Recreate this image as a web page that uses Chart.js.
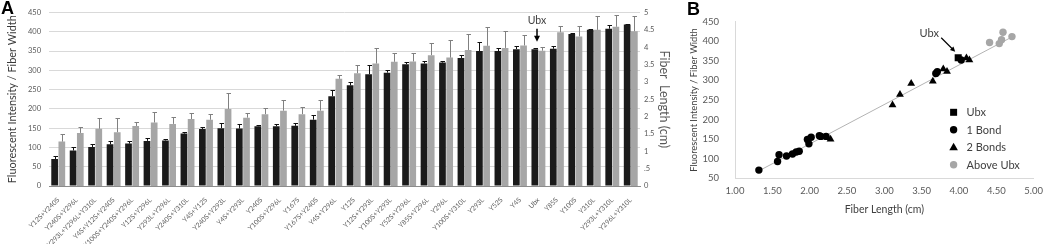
<!DOCTYPE html>
<html>
<head>
<meta charset="utf-8">
<script src="https://cdn.jsdelivr.net/npm/chart.js@4.4.1/dist/chart.umd.min.js"></script>
<style>
  html, body { margin:0; padding:0; background:#fff; }
  body { width:1050px; height:244px; overflow:hidden; position:relative; font-family: Lato, "Liberation Sans", sans-serif; }
  .panel { position:absolute; top:0; height:244px; }
  .lab { position:absolute; font: bold 18px "Liberation Sans", Arial, sans-serif; line-height:18px; color:#000; }
</style>
</head>
<body>
<div class="panel" style="left:0;width:683px"><canvas id="ca" width="683" height="244"></canvas></div>
<div class="panel" style="left:683px;width:367px"><canvas id="cb" width="367" height="244"></canvas></div>
<div class="lab" style="left:1px;top:-1px">A</div>
<div class="lab" style="left:687px;top:0px">B</div>
<script>
// ---------------- Panel A data ----------------
const categories = [
  'Y12S+Y240S','Y240S+Y296L','Y293L+Y296L+Y310L','Y4S+Y12S+Y240S','Y100S+Y240S+Y296L',
  'Y12S+Y296L','Y293L+Y296L','Y240S+Y310L','Y4S+Y12S','Y240S+Y293L','Y4S+Y293L','Y240S',
  'Y100S+Y296L','Y167S','Y167S+Y240S','Y4S+Y296L','Y12S','Y12S+Y293L','Y100S+Y293L',
  'Y52S+Y296L','Y85S+Y296L','Y296L','Y100S+Y310L','Y293L','Y52S','Y4S','Ubx','Y85S',
  'Y100S','Y310L','Y293L+Y310L','Y296L+Y310L'
];
const intensity = [70,92,101,108,110,117,118,136,148,150,149,155,155,156,172,233,261,290,294,316,318,320,332,350,350,355,355,356,394,405,408,419];
const intensitySD = [9,10,7,8,8,8,5,3,4,13,11,2,7,7,11,17,10,24,8,5,6,4,7,23,8,8,2,7,3,3,10,2];
const fiberLength = [1.28,1.53,1.65,1.55,1.73,1.83,1.79,1.93,1.91,2.22,1.97,2.07,2.17,2.07,2.17,3.09,3.25,3.53,3.58,3.59,3.77,3.70,3.92,4.04,3.98,4.05,3.90,4.43,4.31,4.50,4.59,4.46];
const fiberLengthSD = [0.22,0.18,0.30,0.40,0.11,0.29,0.20,0.17,0.16,0.46,0.13,0.18,0.31,0.22,0.31,0.11,0.25,0.46,0.24,0.24,0.35,0.50,0.45,0.54,0.49,0.30,0.11,0.19,0.31,0.40,0.35,0.44];
const leftTicksMax = 450, leftStep = 50;
const rightTicksMax = 5, rightStep = 0.5;

// ---------------- Panel B data ----------------
const ubxX = [3.99];
const ubxY = [358];
const oneBondX = [1.32,1.57,1.59,1.69,1.77,1.82,1.86,1.97,1.99,2.02,2.13,2.15,2.22,3.69,3.71,4.03];
const oneBondY = [71,93,110,107,112,117,119,149,138,155,159,157,157,318,322,352];
const twoBondsX = [2.28,3.11,3.21,3.36,3.65,3.79,3.84,4.10,4.14];
const twoBondsY = [150,237,264,292,298,329,323,357,352];
const aboveUbxX = [4.41,4.54,4.57,4.59,4.71];
const aboveUbxY = [397,394,404,423,412];
const trendX = [1.30,4.75];
const trendY = [67,415];

const FONT = 'Lato, "Liberation Sans", sans-serif';
const TICK = '#595959';
const zip = (xs, ys) => xs.map((x, i) => ({x, y: ys[i]}));

// ---------- plugins ----------
const errorBars = {
  id: 'errorBars',
  afterDatasetsDraw(chart) {
    const ctx = chart.ctx;
    chart.data.datasets.forEach((ds, di) => {
      if (!ds.sd) return;
      const meta = chart.getDatasetMeta(di);
      const scale = chart.scales[meta.yAxisID];
      ctx.save();
      ctx.strokeStyle = ds.sdColor;
      ctx.lineWidth = 1;
      meta.data.forEach((bar, i) => {
        const x = Math.round(bar.x) + 0.5;
        const yTop = Math.round(scale.getPixelForValue(ds.data[i] + ds.sd[i])) + 0.5;
        ctx.beginPath();
        ctx.moveTo(x, bar.y);
        ctx.lineTo(x, yTop);
        ctx.moveTo(x - 2, yTop);
        ctx.lineTo(x + 2.5, yTop);
        ctx.stroke();
      });
      ctx.restore();
    });
  }
};

const ubxArrowA = {
  id: 'ubxArrowA',
  afterDatasetsDraw(chart) {
    const i = categories.indexOf('Ubx');
    const x = Math.round(chart.scales.x.getPixelForValue(i)) - 1;
    const top = Math.min(
      chart.scales.y.getPixelForValue(intensity[i] + intensitySD[i]),
      chart.scales.y1.getPixelForValue(fiberLength[i] + fiberLengthSD[i]));
    const ctx = chart.ctx;
    ctx.save();
    ctx.fillStyle = '#404040';
    ctx.font = '10.5px ' + FONT;
    ctx.textAlign = 'center';
    ctx.textBaseline = 'middle';
    ctx.fillText('Ubx', x, top - 26);
    ctx.strokeStyle = '#000';
    ctx.fillStyle = '#000';
    ctx.lineWidth = 1.5;
    ctx.beginPath();
    ctx.moveTo(x, top - 18);
    ctx.lineTo(x, top - 10);
    ctx.stroke();
    ctx.beginPath();
    ctx.moveTo(x - 3, top - 11);
    ctx.lineTo(x + 3, top - 11);
    ctx.lineTo(x, top - 5);
    ctx.closePath();
    ctx.fill();
    ctx.restore();
  }
};

// ---------- Panel A ----------
new Chart(document.getElementById('ca'), {
  type: 'bar',
  data: {
    labels: categories,
    datasets: [
      { label: 'Fluorescent Intensity / Fiber Width', data: intensity, sd: intensitySD, sdColor: '#111',
        backgroundColor: '#1a1a1a', yAxisID: 'y', categoryPercentage: 0.78, barPercentage: 0.93 },
      { label: 'Fiber Length (cm)', data: fiberLength, sd: fiberLengthSD, sdColor: '#808080',
        backgroundColor: '#a6a6a6', yAxisID: 'y1', categoryPercentage: 0.78, barPercentage: 0.93 }
    ]
  },
  options: {
    responsive: false, animation: false, events: [],
    layout: { padding: { top: 8, left: 0, right: 0, bottom: 0 } },
    plugins: { legend: { display: false }, tooltip: { enabled: false } },
    scales: {
      x: {
        grid: { display: false },
        border: { display: true, color: '#8c8c8c', width: 1 },
        ticks: { autoSkip: false, minRotation: 45, maxRotation: 45, padding: 2, color: TICK, font: { family: FONT, size: 6.8 } },
        afterFit: s => { s.height = 58; }
      },
      y: {
        position: 'left', min: 0, max: leftTicksMax,
        ticks: { stepSize: leftStep, padding: 8, color: TICK, font: { family: FONT, size: 7.5 } },
        grid: { color: '#d9d9d9', drawTicks: false, lineWidth: 1 },
        border: { display: false },
        title: { display: true, text: 'Fluorescent Intensity / Fiber Width', color: '#3a3a3a',
                 font: { family: FONT, size: 10.9 }, padding: { top: 6, bottom: 0 } },
        afterFit: s => { s.width = 49; }
      },
      y1: {
        position: 'right', min: 0, max: rightTicksMax,
        ticks: { stepSize: rightStep, padding: 4, color: TICK, font: { family: FONT, size: 7.5 },
                 callback: v => { const r = Math.round(v * 10) / 10; return r > 0 && r < 1 ? String(r).replace(/^0/, '') : String(r); } },
        grid: { display: false, drawTicks: false },
        border: { display: false },
        title: { display: true, text: 'Fiber  Length (cm)', color: '#595959',
                 font: { family: FONT, size: 12.5 }, padding: { top: 11, bottom: 0 } },
        afterFit: s => { s.width = 43; }
      }
    }
  },
  plugins: [errorBars, ubxArrowA]
});

// ---------- Panel B ----------
const legendB = {
  id: 'legendB',
  afterDatasetsDraw(chart) {
    const ctx = chart.ctx;
    const a = chart.chartArea;
    const mx = a.right - 80, tx = a.right - 67;
    const items = [
      { label: 'Ubx', shape: 'rect', color: '#000' },
      { label: '1 Bond', shape: 'circle', color: '#000' },
      { label: '2 Bonds', shape: 'triangle', color: '#000' },
      { label: 'Above Ubx', shape: 'circle', color: '#a6a6a6' }
    ];
    ctx.save();
    ctx.font = '11px ' + FONT;
    ctx.textBaseline = 'middle';
    items.forEach((it, k) => {
      const y = a.bottom - 66 + k * 17.5;
      ctx.fillStyle = it.color;
      ctx.beginPath();
      if (it.shape === 'rect') ctx.rect(mx - 3.5, y - 3.5, 7, 7);
      else if (it.shape === 'circle') ctx.arc(mx, y, 3.7, 0, Math.PI * 2);
      else { ctx.moveTo(mx, y - 4.5); ctx.lineTo(mx + 4.3, y + 3); ctx.lineTo(mx - 4.3, y + 3); ctx.closePath(); }
      ctx.fill();
      ctx.fillStyle = '#404040';
      ctx.fillText(it.label, tx, y + 0.5);
    });
    ctx.restore();
  }
};

const ubxArrowB = {
  id: 'ubxArrowB',
  afterDatasetsDraw(chart) {
    const ctx = chart.ctx;
    const px = chart.scales.x.getPixelForValue(ubxX[0]);
    const py = chart.scales.y.getPixelForValue(ubxY[0]);
    ctx.save();
    ctx.fillStyle = '#404040';
    ctx.font = '11px ' + FONT;
    ctx.textAlign = 'center';
    ctx.textBaseline = 'middle';
    ctx.fillText('Ubx', px - 29, py - 24);
    const x0 = px - 17, y0 = py - 20, x1 = px - 3, y1 = py - 6;
    ctx.strokeStyle = '#000';
    ctx.fillStyle = '#000';
    ctx.lineWidth = 1.2;
    ctx.beginPath(); ctx.moveTo(x0, y0); ctx.lineTo(x1 - 2, y1 - 2); ctx.stroke();
    const ang = Math.atan2(y1 - y0, x1 - x0);
    ctx.beginPath();
    ctx.moveTo(x1, y1);
    ctx.lineTo(x1 - 5 * Math.cos(ang) + 2.5 * Math.sin(ang), y1 - 5 * Math.sin(ang) - 2.5 * Math.cos(ang));
    ctx.lineTo(x1 - 5 * Math.cos(ang) - 2.5 * Math.sin(ang), y1 - 5 * Math.sin(ang) + 2.5 * Math.cos(ang));
    ctx.closePath();
    ctx.fill();
    ctx.restore();
  }
};

new Chart(document.getElementById('cb'), {
  type: 'scatter',
  data: {
    datasets: [
      { label: 'Ubx', data: zip(ubxX, ubxY), pointStyle: 'rect', pointRadius: 5, backgroundColor: '#000', borderWidth: 0 },
      { label: '1 Bond', data: zip(oneBondX, oneBondY), pointStyle: 'circle', pointRadius: 3.7, backgroundColor: '#000', borderWidth: 0 },
      { label: '2 Bonds', data: zip(twoBondsX, twoBondsY), pointStyle: 'triangle', pointRadius: 4.5, backgroundColor: '#000', borderWidth: 0 },
      { label: 'Above Ubx', data: zip(aboveUbxX, aboveUbxY), pointStyle: 'circle', pointRadius: 3.7, backgroundColor: '#a6a6a6', borderWidth: 0 },
      { type: 'line', label: 'trend', data: zip(trendX, trendY), borderColor: '#b3b3b3', borderWidth: 1, pointRadius: 0, fill: false }
    ]
  },
  options: {
    responsive: false, animation: false, events: [],
    layout: { padding: { top: 10, right: 12, left: 0, bottom: 0 } },
    plugins: { legend: { display: false }, tooltip: { enabled: false } },
    scales: {
      x: {
        type: 'linear', min: 1, max: 5,
        ticks: { stepSize: 0.5, padding: 7, color: TICK, font: { family: FONT, size: 9.5 }, callback: v => Number(v).toFixed(2) },
        grid: { display: false, drawTicks: false },
        border: { display: true, color: '#d9d9d9' },
        title: { display: true, text: 'Fiber Length (cm)', color: '#404040', font: { family: FONT, size: 10.5 }, padding: { top: 0, bottom: 28 } },
        afterFit: s => { s.height = 65.7; }
      },
      y: {
        type: 'linear', min: 50, max: 450,
        ticks: { stepSize: 50, padding: 16, color: TICK, font: { family: FONT, size: 9.5 } },
        grid: { display: false, drawTicks: false },
        border: { display: true, color: '#d9d9d9' },
        title: { display: true, text: 'Fluorescent Intensity / Fiber Width', color: '#404040', font: { family: FONT, size: 9.3 }, padding: { top: 5, bottom: 0 } },
        afterFit: s => { s.width = 52; }
      }
    }
  },
  plugins: [legendB, ubxArrowB]
});
</script>
</body>
</html>
